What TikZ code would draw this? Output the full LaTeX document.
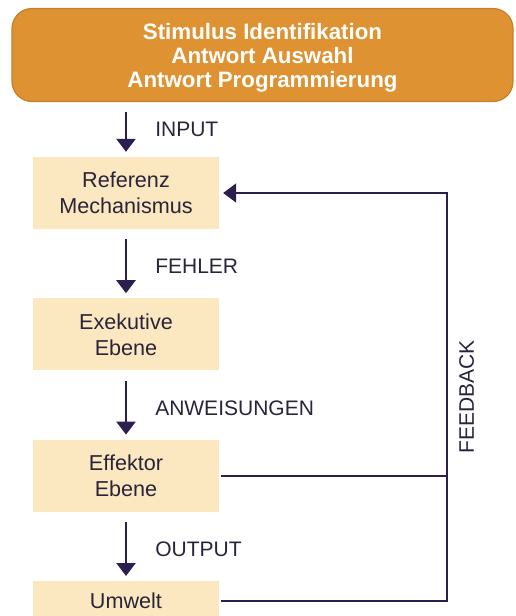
\documentclass[tikz,border=0pt]{standalone}
\usepackage{fontspec}
\setmainfont{Liberation Sans}
\usetikzlibrary{positioning,arrows.meta}
\definecolor{headorange}{RGB}{223,146,50}
\definecolor{boxbeige}{RGB}{252,232,192}
\definecolor{linepurple}{RGB}{44,30,78}
\definecolor{textdark}{RGB}{42,36,58}

\begin{document}
\begin{tikzpicture}[x=1pt, y=-1pt,
    >={Triangle[width=19pt,length=13pt]},
    headbox/.style={fill=headorange, draw=headorange!88!black, line width=1.2pt, rounded corners=20pt,
        minimum width=501pt, minimum height=93pt, align=center, text=white, text depth=0pt,
        font=\fontsize{22.3}{24}\selectfont\bfseries},
    stagebox/.style={fill=boxbeige, minimum width=186pt, minimum height=72pt, align=center,
        text=textdark, font=\fontsize{21.6}{26}\selectfont},
    flow/.style={->, line width=2.5pt, linepurple, shorten <=10pt, shorten >=5pt},
    fbline/.style={line width=2.1pt, linepurple, shorten <=2pt},
    steplabel/.style={text=textdark, inner sep=0pt, font=\fontsize{21}{24}\selectfont}
  ]
    \useasboundingbox (0,0) rectangle (515,616);
    \clip (0,0) rectangle (515,616);

    \node[headbox] (head) at (262.5,55) {Stimulus Identifikation\\Antwort Auswahl\\Antwort Programmierung};

    \node[stagebox] (ref) at (126,193) {Referenz\\Mechanismus};
    \node[stagebox, below=69pt of ref] (exe) {Exekutive\\Ebene};
    \node[stagebox, below=69pt of exe] (eff) {Effektor\\Ebene};
    \node[stagebox, below=69pt of eff, minimum height=40pt] (umw) {Umwelt};

    \draw[flow] (ref |- head.south) -- node[steplabel, right=28pt] (input) {INPUT} (ref);
    \draw[flow] (ref) -- node[steplabel, right=28pt, yshift=-3pt] (fehler) {FEHLER} (exe);
    \draw[flow] (exe) -- node[steplabel, right=28pt, yshift=-3pt] (anweisungen) {ANWEISUNGEN} (eff);
    \draw[flow] (eff) -- node[steplabel, right=28pt, yshift=-3pt] (output) {OUTPUT} (umw);

    \coordinate[right=228pt of ref.east] (fbtop);
    \draw[fbline, ->, shorten >=4pt] (umw.east) -| node[pos=0.75, steplabel, rotate=90, anchor=north, inner sep=11pt] (feedback) {FEEDBACK} (fbtop) -- (ref.east);
    \draw[fbline] (eff.east) -- (eff.east -| fbtop);
\end{tikzpicture}
\end{document}
